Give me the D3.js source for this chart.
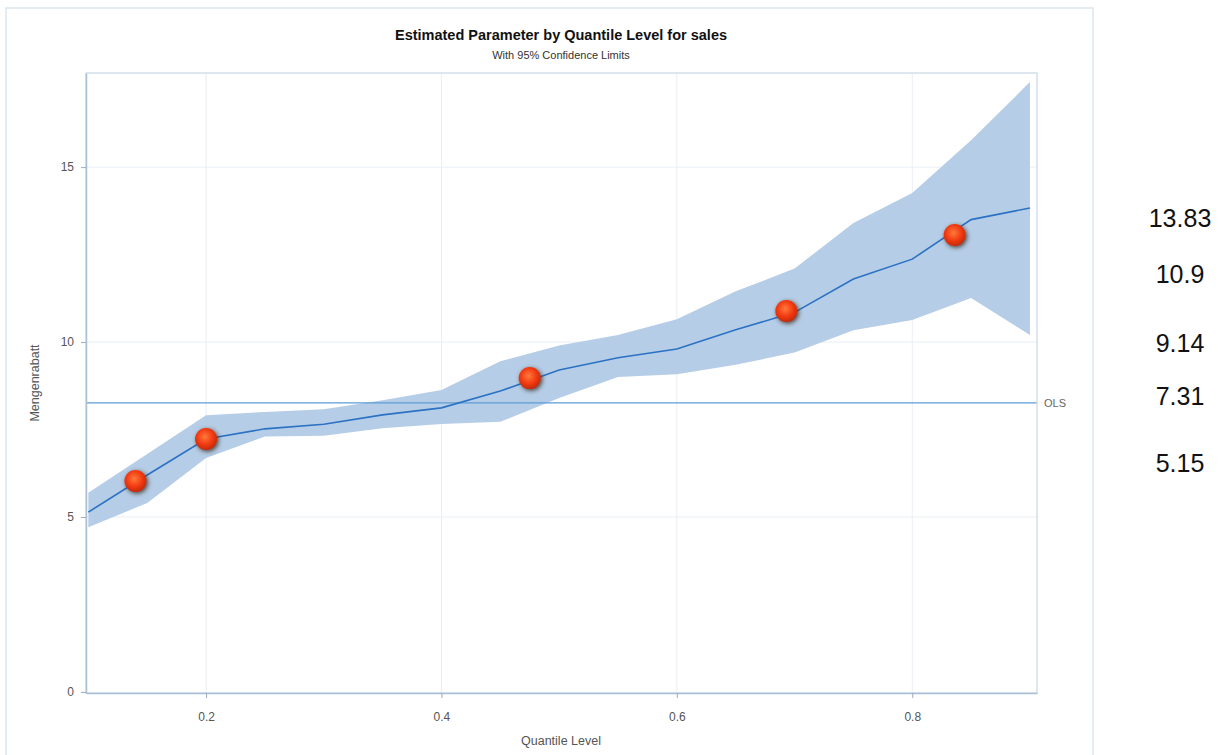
<!DOCTYPE html>
<html>
<head>
<meta charset="utf-8">
<script src="https://cdn.jsdelivr.net/npm/d3@7"></script>
<style>
  body { margin: 0; background: #fff; }
  text { font-family: "Liberation Sans", Arial, sans-serif; }
</style>
</head>
<body>
<div id="chart"></div>
<script>
// quantile levels and estimates
var quantiles = [0.10, 0.15, 0.20, 0.25, 0.30, 0.35, 0.40, 0.45, 0.50, 0.55, 0.60, 0.65, 0.70, 0.75, 0.80, 0.85, 0.90];
var estimate  = [5.14, 6.20, 7.23, 7.52, 7.65, 7.92, 8.12, 8.60, 9.20, 9.55, 9.80, 10.35, 10.85, 11.80, 12.37, 13.50, 13.83];
var upperCL   = [5.69, 6.80, 7.91, 8.00, 8.08, 8.34, 8.63, 9.45, 9.90, 10.20, 10.65, 11.45, 12.10, 13.40, 14.26, 15.77, 17.43];
var lowerCL   = [4.71, 5.40, 6.69, 7.30, 7.32, 7.54, 7.66, 7.72, 8.40, 9.00, 9.08, 9.35, 9.70, 10.34, 10.63, 11.26, 10.20];
var olsValue = 8.26;

// highlighted points
var markerQ   = [0.14, 0.20, 0.475, 0.693, 0.836];
var markerVal = [6.03, 7.23, 8.97, 10.89, 13.06];

var xTicks = [0.2, 0.4, 0.6, 0.8];
var yTicks = [0, 5, 10, 15];
var sideLabels = ["13.83", "10.9", "9.14", "7.31", "5.15"];

var W = 1227, H = 755;
var plot = { left: 86, top: 73, right: 1037, bottom: 693 };

var svg = d3.select("#chart").append("svg")
    .attr("width", W)
    .attr("height", H);

var defs = svg.append("defs");
var grad = defs.append("radialGradient").attr("id", "ball")
    .attr("cx", "45%").attr("cy", "40%").attr("r", "60%");
grad.append("stop").attr("offset", "0%").attr("stop-color", "#ff7a3c");
grad.append("stop").attr("offset", "60%").attr("stop-color", "#f23a12");
grad.append("stop").attr("offset", "100%").attr("stop-color", "#c42a08");
var shadow = defs.append("filter").attr("id", "shadow")
    .attr("x", "-50%").attr("y", "-50%").attr("width", "200%").attr("height", "200%");
shadow.append("feDropShadow").attr("dx", 1.5).attr("dy", 1.5)
    .attr("stdDeviation", 2).attr("flood-color", "#3a2a20").attr("flood-opacity", 0.85);

// outer frame
svg.append("rect")
    .attr("x", 6).attr("y", 8).attr("width", 1087).attr("height", 760)
    .attr("fill", "none").attr("stroke", "#dce6ef").attr("stroke-width", 1.5);

var x = d3.scaleLinear().domain([0.098, 0.906]).range([plot.left, plot.right]);
var y = d3.scaleLinear().domain([-0.03, 17.69]).range([plot.bottom, plot.top]);

var g = svg.append("g");

// grid
g.selectAll(".vgrid").data(xTicks).enter().append("line")
    .attr("x1", function(d) { return x(d); }).attr("x2", function(d) { return x(d); })
    .attr("y1", plot.top).attr("y2", plot.bottom)
    .attr("stroke", "#e9eff5").attr("stroke-width", 1);
g.selectAll(".hgrid").data(yTicks.filter(function(d) { return d > 0; })).enter().append("line")
    .attr("y1", function(d) { return y(d); }).attr("y2", function(d) { return y(d); })
    .attr("x1", plot.left).attr("x2", plot.right)
    .attr("stroke", "#e9eff5").attr("stroke-width", 1);

var rows = quantiles.map(function(q, i) {
    return { q: q, est: estimate[i], lo: lowerCL[i], hi: upperCL[i] };
});

// confidence band
g.append("path")
    .datum(rows)
    .attr("fill", "#b5cde6")
    .attr("d", d3.area()
        .x(function(d) { return x(d.q); })
        .y0(function(d) { return y(d.lo); })
        .y1(function(d) { return y(d.hi); }));

// OLS reference line
g.append("line")
    .attr("x1", plot.left).attr("x2", plot.right)
    .attr("y1", y(olsValue)).attr("y2", y(olsValue))
    .attr("stroke", "#5d9bd6").attr("stroke-width", 1.2);
svg.append("text")
    .attr("x", plot.right + 7).attr("y", y(olsValue) + 4)
    .attr("font-size", "11px").attr("fill", "#666")
    .text("OLS");

// estimate line
g.append("path")
    .datum(rows)
    .attr("fill", "none")
    .attr("stroke", "#2b72c4")
    .attr("stroke-width", 1.6)
    .attr("d", d3.line()
        .x(function(d) { return x(d.q); })
        .y(function(d) { return y(d.est); }));

// frame
svg.append("rect")
    .attr("x", plot.left).attr("y", plot.top)
    .attr("width", plot.right - plot.left).attr("height", plot.bottom - plot.top)
    .attr("fill", "none").attr("stroke", "#c9d7e5").attr("stroke-width", 1.2);

// axes
var xAxis = svg.append("g")
    .attr("transform", "translate(0," + plot.bottom + ")")
    .call(d3.axisBottom(x).tickValues(xTicks).tickSizeInner(5).tickSizeOuter(0)
        .tickPadding(14).tickFormat(d3.format(".1f")));
var yAxis = svg.append("g")
    .attr("transform", "translate(" + plot.left + ",0)")
    .call(d3.axisLeft(y).tickValues(yTicks).tickSizeInner(5).tickSizeOuter(0).tickPadding(7));
[xAxis, yAxis].forEach(function(ax) {
    ax.select(".domain").attr("stroke", "#a9c0d6").attr("stroke-width", 1.5);
    ax.selectAll(".tick line").attr("stroke", "#9aaabb");
    ax.selectAll(".tick text").attr("fill", "#555").attr("font-size", "12px")
        .attr("font-family", "'Liberation Sans', Arial, sans-serif");
});

// markers
var marks = markerQ.map(function(q, i) { return { q: q, v: markerVal[i] }; });
svg.selectAll(".ball").data(marks).enter().append("circle")
    .attr("cx", function(d) { return x(d.q); })
    .attr("cy", function(d) { return y(d.v); })
    .attr("r", 11)
    .attr("fill", "url(#ball)")
    .attr("filter", "url(#shadow)");

// titles
svg.append("text")
    .attr("x", 561).attr("y", 40)
    .attr("text-anchor", "middle")
    .attr("font-size", "14.5px").attr("font-weight", "bold").attr("fill", "#111")
    .text("Estimated Parameter by Quantile Level for sales");
svg.append("text")
    .attr("x", 561).attr("y", 59)
    .attr("text-anchor", "middle")
    .attr("font-size", "11px").attr("fill", "#333")
    .text("With 95% Confidence Limits");

svg.append("text")
    .attr("x", 561).attr("y", 745)
    .attr("text-anchor", "middle")
    .attr("font-size", "12.5px").attr("fill", "#555")
    .text("Quantile Level");
svg.append("text")
    .attr("transform", "translate(39," + 383 + ") rotate(-90)")
    .attr("text-anchor", "middle")
    .attr("font-size", "12.5px").attr("fill", "#555")
    .text("Mengenrabatt");

// side annotations
var sideY = [227, 283, 352, 405, 472];
svg.selectAll(".side").data(sideLabels).enter().append("text")
    .attr("x", 1180)
    .attr("y", function(d, i) { return sideY[i]; })
    .attr("text-anchor", "middle")
    .attr("font-size", "25px").attr("fill", "#111")
    .text(function(d) { return d; });
</script>
</body>
</html>
